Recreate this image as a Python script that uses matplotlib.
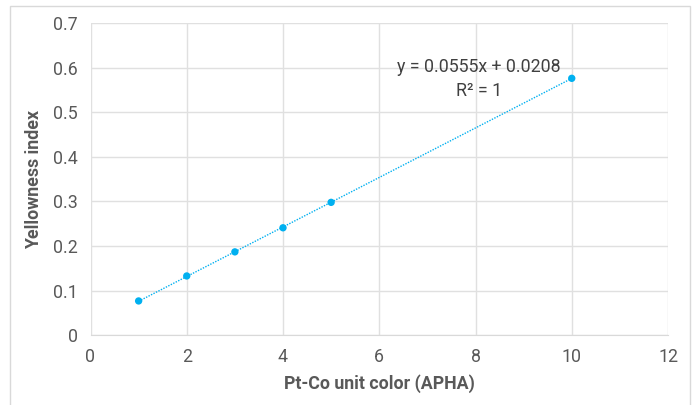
import matplotlib
matplotlib.use("Agg")
import matplotlib.pyplot as plt
from matplotlib.patches import Rectangle

x_vals = [1, 2, 3, 4, 5, 10]
y_vals = [0.077, 0.133, 0.187, 0.241, 0.298, 0.576]
slope = 0.0555
intercept = 0.0208
x_ticks = [0, 2, 4, 6, 8, 10, 12]
y_ticks = [0, 0.1, 0.2, 0.3, 0.4, 0.5, 0.6, 0.7]
y_tick_labels = ["0", "0.1", "0.2", "0.3", "0.4", "0.5", "0.6", "0.7"]
eq_text = "y = 0.0555x + 0.0208\nR² = 1"

plt.rcParams['font.family'] = ['Roboto', 'DejaVu Sans']

fig = plt.figure(figsize=(6.98, 4.05), dpi=100)
fig.patch.set_facecolor('white')
# outer chart border
fig.add_artist(Rectangle((10/698, -0.05), (690-10)/698, (405-6)/405 + 0.05,
                         transform=fig.transFigure, fill=False,
                         edgecolor='#d9d9d9', linewidth=1.0))

ax = fig.add_axes([90.5/698, 1 - 335.3/405, (668-90.5)/698, (335.3-23)/405])
ax.set_xlim(0, 12)
ax.set_ylim(0, 0.7)
ax.set_xticks(x_ticks)
ax.set_yticks(y_ticks)
ax.set_yticklabels(y_tick_labels)
ax.grid(True, color='#e0e0e0', linewidth=1.0)
ax.set_axisbelow(True)
for s in ax.spines.values():
    s.set_visible(False)
ax.spines['bottom'].set_visible(True)
ax.spines['bottom'].set_color('#d9d9d9')
ax.tick_params(length=0, labelsize=12.8, colors='#595959', pad=9)

color = '#00b0f0'
xs = [min(x_vals), max(x_vals)]
ax.plot(xs, [slope * v + intercept for v in xs], linestyle=(0, (1, 1)),
        color=color, linewidth=1.0, zorder=2)
ax.scatter(x_vals, y_vals, s=28, color=color, zorder=3, edgecolors='none')

ax.text(8.07, 0.575, eq_text, ha='center', va='center', fontsize=12.8,
        color='#404040', linespacing=1.4)

ax.set_xlabel("Pt-Co unit color (APHA)", fontsize=12.8, fontweight='bold',
              color='#595959', labelpad=6)
ax.set_ylabel("Yellowness index", fontsize=12.8, fontweight='bold',
              color='#595959', labelpad=7)

fig.savefig("out.png", dpi=100, facecolor='white')
